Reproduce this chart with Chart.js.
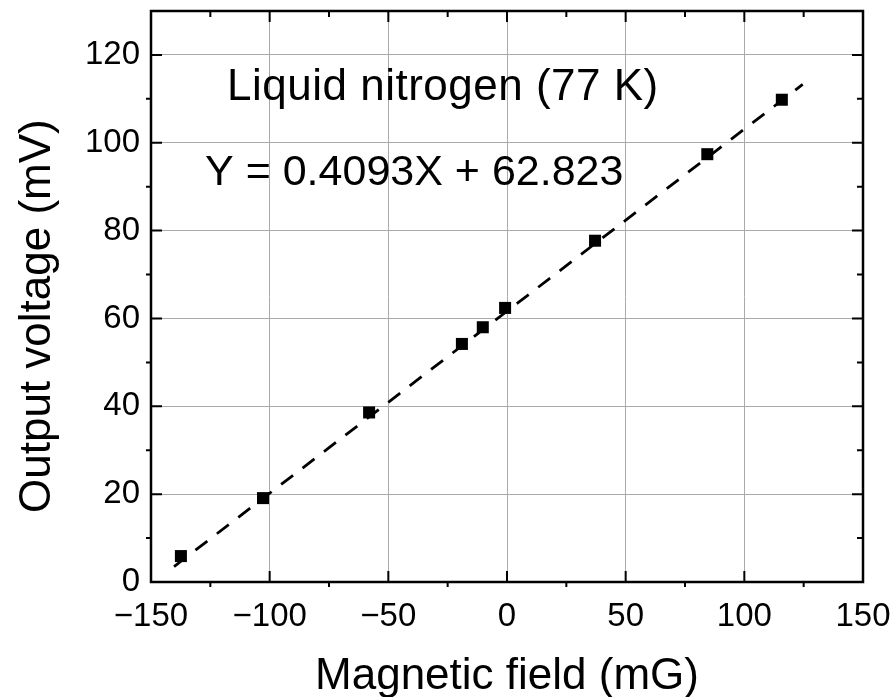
<!DOCTYPE html>
<html>
<head>
<meta charset="utf-8">
<script src="https://cdn.jsdelivr.net/npm/chart.js@4.4.1/dist/chart.umd.min.js"></script>
<style>
  html, body { margin: 0; padding: 0; background: #fff; }
  #wrap { width: 892px; height: 697px; position: relative; }
</style>
</head>
<body>
<div id="wrap"><canvas id="fieldChart"></canvas></div>
<script>
const fieldMG = [-137.4, -102.8, -58.1, -19.0, -10.2, -0.8, 37.1, 84.4, 115.8];
const voltageMV = [5.9, 19.1, 38.6, 54.2, 58.0, 62.4, 77.7, 97.4, 109.8];

// ends of the dashed fit line
const fitX = [-140.3, 124.6];
const fitY = [3.5, 113.3];

const xTicks = [-150, -100, -50, 0, 50, 100, 150];
const yTicks = [0, 20, 40, 60, 80, 100, 120];
const xMinor = [-125, -75, -25, 25, 75, 125];
const yMinor = [10, 30, 50, 70, 90, 110];

const noteLines = ['Liquid nitrogen (77 K)', 'Y = 0.4093X + 62.823'];
const xTitle = 'Magnetic field (mG)';
const yTitle = 'Output voltage (mV)';

const FONT = '"Liberation Sans", Arial, sans-serif';

const framePlugin = {
  id: 'frame',
  beforeDatasetsDraw(chart) {
    const ctx = chart.ctx;
    ctx.save();
    ctx.fillStyle = '#000';
    ctx.textBaseline = 'alphabetic';
    ctx.textAlign = 'left';
    ctx.font = '44px ' + FONT;
    ctx.letterSpacing = '0.5px';
    ctx.fillText(noteLines[0], 227, 100);
    ctx.letterSpacing = '0px';
    ctx.font = '43px ' + FONT;
    ctx.fillText(noteLines[1], 205, 185);

    // y axis title
    ctx.font = '44px ' + FONT;
    ctx.translate(50, 513);
    ctx.rotate(-Math.PI / 2);
    ctx.fillText(yTitle, 0, 0);
    ctx.restore();
  },
  afterDatasetsDraw(chart) {
    const ctx = chart.ctx;
    const a = chart.chartArea;
    const xs = chart.scales.x, ys = chart.scales.y;
    ctx.save();
    ctx.strokeStyle = '#000';
    ctx.lineWidth = 2;
    ctx.beginPath();
    xTicks.forEach(v => {
      const px = xs.getPixelForValue(v);
      ctx.moveTo(px, a.bottom); ctx.lineTo(px, a.bottom - 11);
      ctx.moveTo(px, a.top); ctx.lineTo(px, a.top + 11);
    });
    xMinor.forEach(v => {
      const px = xs.getPixelForValue(v);
      ctx.moveTo(px, a.bottom); ctx.lineTo(px, a.bottom + 5);
      ctx.moveTo(px, a.top); ctx.lineTo(px, a.top + 6);
    });
    yTicks.forEach(v => {
      const py = ys.getPixelForValue(v);
      ctx.moveTo(a.left, py); ctx.lineTo(a.left + 11, py);
      ctx.moveTo(a.right, py); ctx.lineTo(a.right - 11, py);
    });
    yMinor.forEach(v => {
      const py = ys.getPixelForValue(v);
      ctx.moveTo(a.left, py); ctx.lineTo(a.left - 5, py);
      ctx.moveTo(a.right, py); ctx.lineTo(a.right - 6, py);
    });
    ctx.stroke();
    ctx.lineWidth = 2.5;
    ctx.strokeRect(a.left, a.top, a.right - a.left, a.bottom - a.top);
    ctx.restore();
  }
};

new Chart(document.getElementById('fieldChart'), {
  type: 'scatter',
  data: {
    datasets: [
      {
        label: 'fit',
        data: fitX.map((x, i) => ({ x: x, y: fitY[i] })),
        showLine: true,
        borderColor: '#000',
        borderWidth: 2.8,
        borderDash: [15, 12],
        pointRadius: 0,
        fill: false
      },
      {
        label: 'data',
        data: fieldMG.map((x, i) => ({ x: x, y: voltageMV[i] })),
        pointStyle: 'rect',
        pointRadius: 8.5,
        backgroundColor: '#000',
        borderColor: '#000',
        borderWidth: 0
      }
    ]
  },
  options: {
    responsive: true,
    maintainAspectRatio: false,
    animation: false,
    events: [],
    layout: { padding: { top: 11, right: 29, left: 0, bottom: 0 } },
    plugins: {
      legend: { display: false },
      tooltip: { enabled: false }
    },
    scales: {
      x: {
        type: 'linear',
        min: -150,
        max: 150,
        afterFit: s => { s.height = 115; s.paddingLeft = 0; s.paddingRight = 0; },
        afterBuildTicks: s => { s.ticks = xTicks.map(v => ({ value: v })); },
        grid: { color: '#aaaaaa', lineWidth: 1, drawTicks: false },
        border: { display: false },
        ticks: {
          color: '#000',
          padding: 15,
          font: { size: 33, family: FONT },
          maxRotation: 0,
          callback: v => String(v).replace('-', '\u2212')
        },
        title: {
          display: true,
          text: xTitle,
          color: '#000',
          font: { size: 44, family: FONT, lineHeight: 1 },
          padding: { top: 0, bottom: -2 }
        }
      },
      y: {
        type: 'linear',
        min: 0,
        max: 130,
        afterFit: s => { s.width = 151; s.paddingTop = 0; s.paddingBottom = 0; },
        afterBuildTicks: s => { s.ticks = yTicks.map(v => ({ value: v })); },
        grid: { color: '#aaaaaa', lineWidth: 1, drawTicks: false },
        border: { display: false },
        ticks: {
          color: '#000',
          padding: 11,
          font: { size: 33, family: FONT }
        }
      }
    }
  },
  plugins: [framePlugin]
});
</script>
</body>
</html>
